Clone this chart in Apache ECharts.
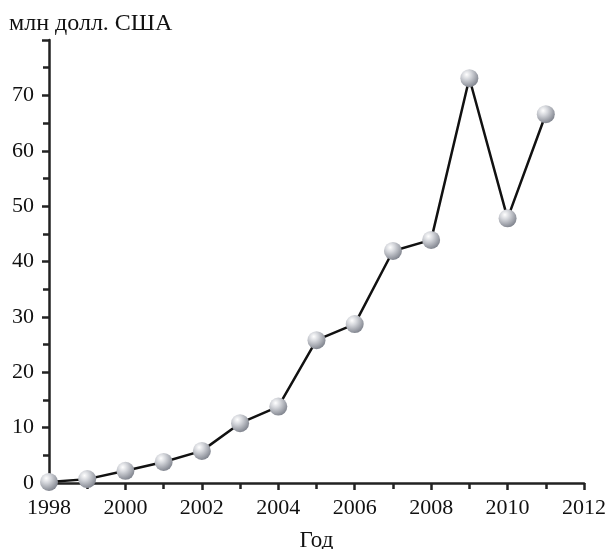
<!DOCTYPE html>
<html><head><meta charset="utf-8">
<script src="https://cdn.jsdelivr.net/npm/echarts@6/dist/echarts.min.js"></script>
<style>html,body{margin:0;padding:0;background:#fff}#c{width:611px;height:549px}</style>
</head><body><div id="c"></div>
<script>
var years = [1998,1999,2000,2001,2002,2003,2004,2005,2006,2007,2008,2009,2010,2011];
var values = [0.2,0.7,2.2,3.8,5.8,10.8,13.8,25.8,28.7,41.9,43.9,73.1,47.8,66.6];
var yAxisTitle = 'млн долл. США';
var xAxisTitle = 'Год';

var chart = echarts.init(document.getElementById('c'));
var font = 'Liberation Serif, Times New Roman, serif';
var sphere = new echarts.graphic.RadialGradient(0.35, 0.3, 0.75, [
  {offset:0, color:'#ffffff'},
  {offset:0.35, color:'#d4d6db'},
  {offset:1, color:'#7d818b'}
]);
chart.setOption({
  animation:false,
  grid:{left:49, right:27, top:40, bottom:66, containLabel:false, outerBoundsMode:'none'},
  graphic:[{type:'text', left:9, top:12, style:{text:yAxisTitle, font:'24px '+font, fill:'#111'}}],
  xAxis:{type:'value', min:1998, max:2012, interval:2, name:xAxisTitle, nameLocation:'middle', nameGap:46,
    nameTextStyle:{fontFamily:font, fontSize:23, color:'#111'},
    axisLine:{show:true, onZero:false, lineStyle:{color:'#222', width:2.5}},
    axisTick:{show:true, length:7, lineStyle:{color:'#222', width:2.5}},
    minorTick:{show:true, splitNumber:2, length:6, lineStyle:{color:'#222', width:2.5}},
    splitLine:{show:false},
    axisLabel:{fontFamily:font, fontSize:22, color:'#111', margin:14, formatter:function(v){return String(v);}}},
  yAxis:{type:'value', min:0, max:80, interval:10,
    axisLine:{show:true, lineStyle:{color:'#222', width:2.5}},
    axisTick:{show:true, length:7, lineStyle:{color:'#222', width:2.5}},
    minorTick:{show:true, splitNumber:2, length:6, lineStyle:{color:'#222', width:2.5}},
    splitLine:{show:false},
    axisLabel:{fontFamily:font, fontSize:22, color:'#111', margin:15,
      formatter:function(v){return v===80?'':String(v);}}},
  series:[{type:'line', data:years.map(function(y,i){return [y, values[i]];}),
    symbol:'circle', symbolSize:18, showAllSymbol:true, clip:false,
    lineStyle:{color:'#111', width:2.5},
    itemStyle:{color:sphere, borderWidth:0}}]
});
</script></body></html>
